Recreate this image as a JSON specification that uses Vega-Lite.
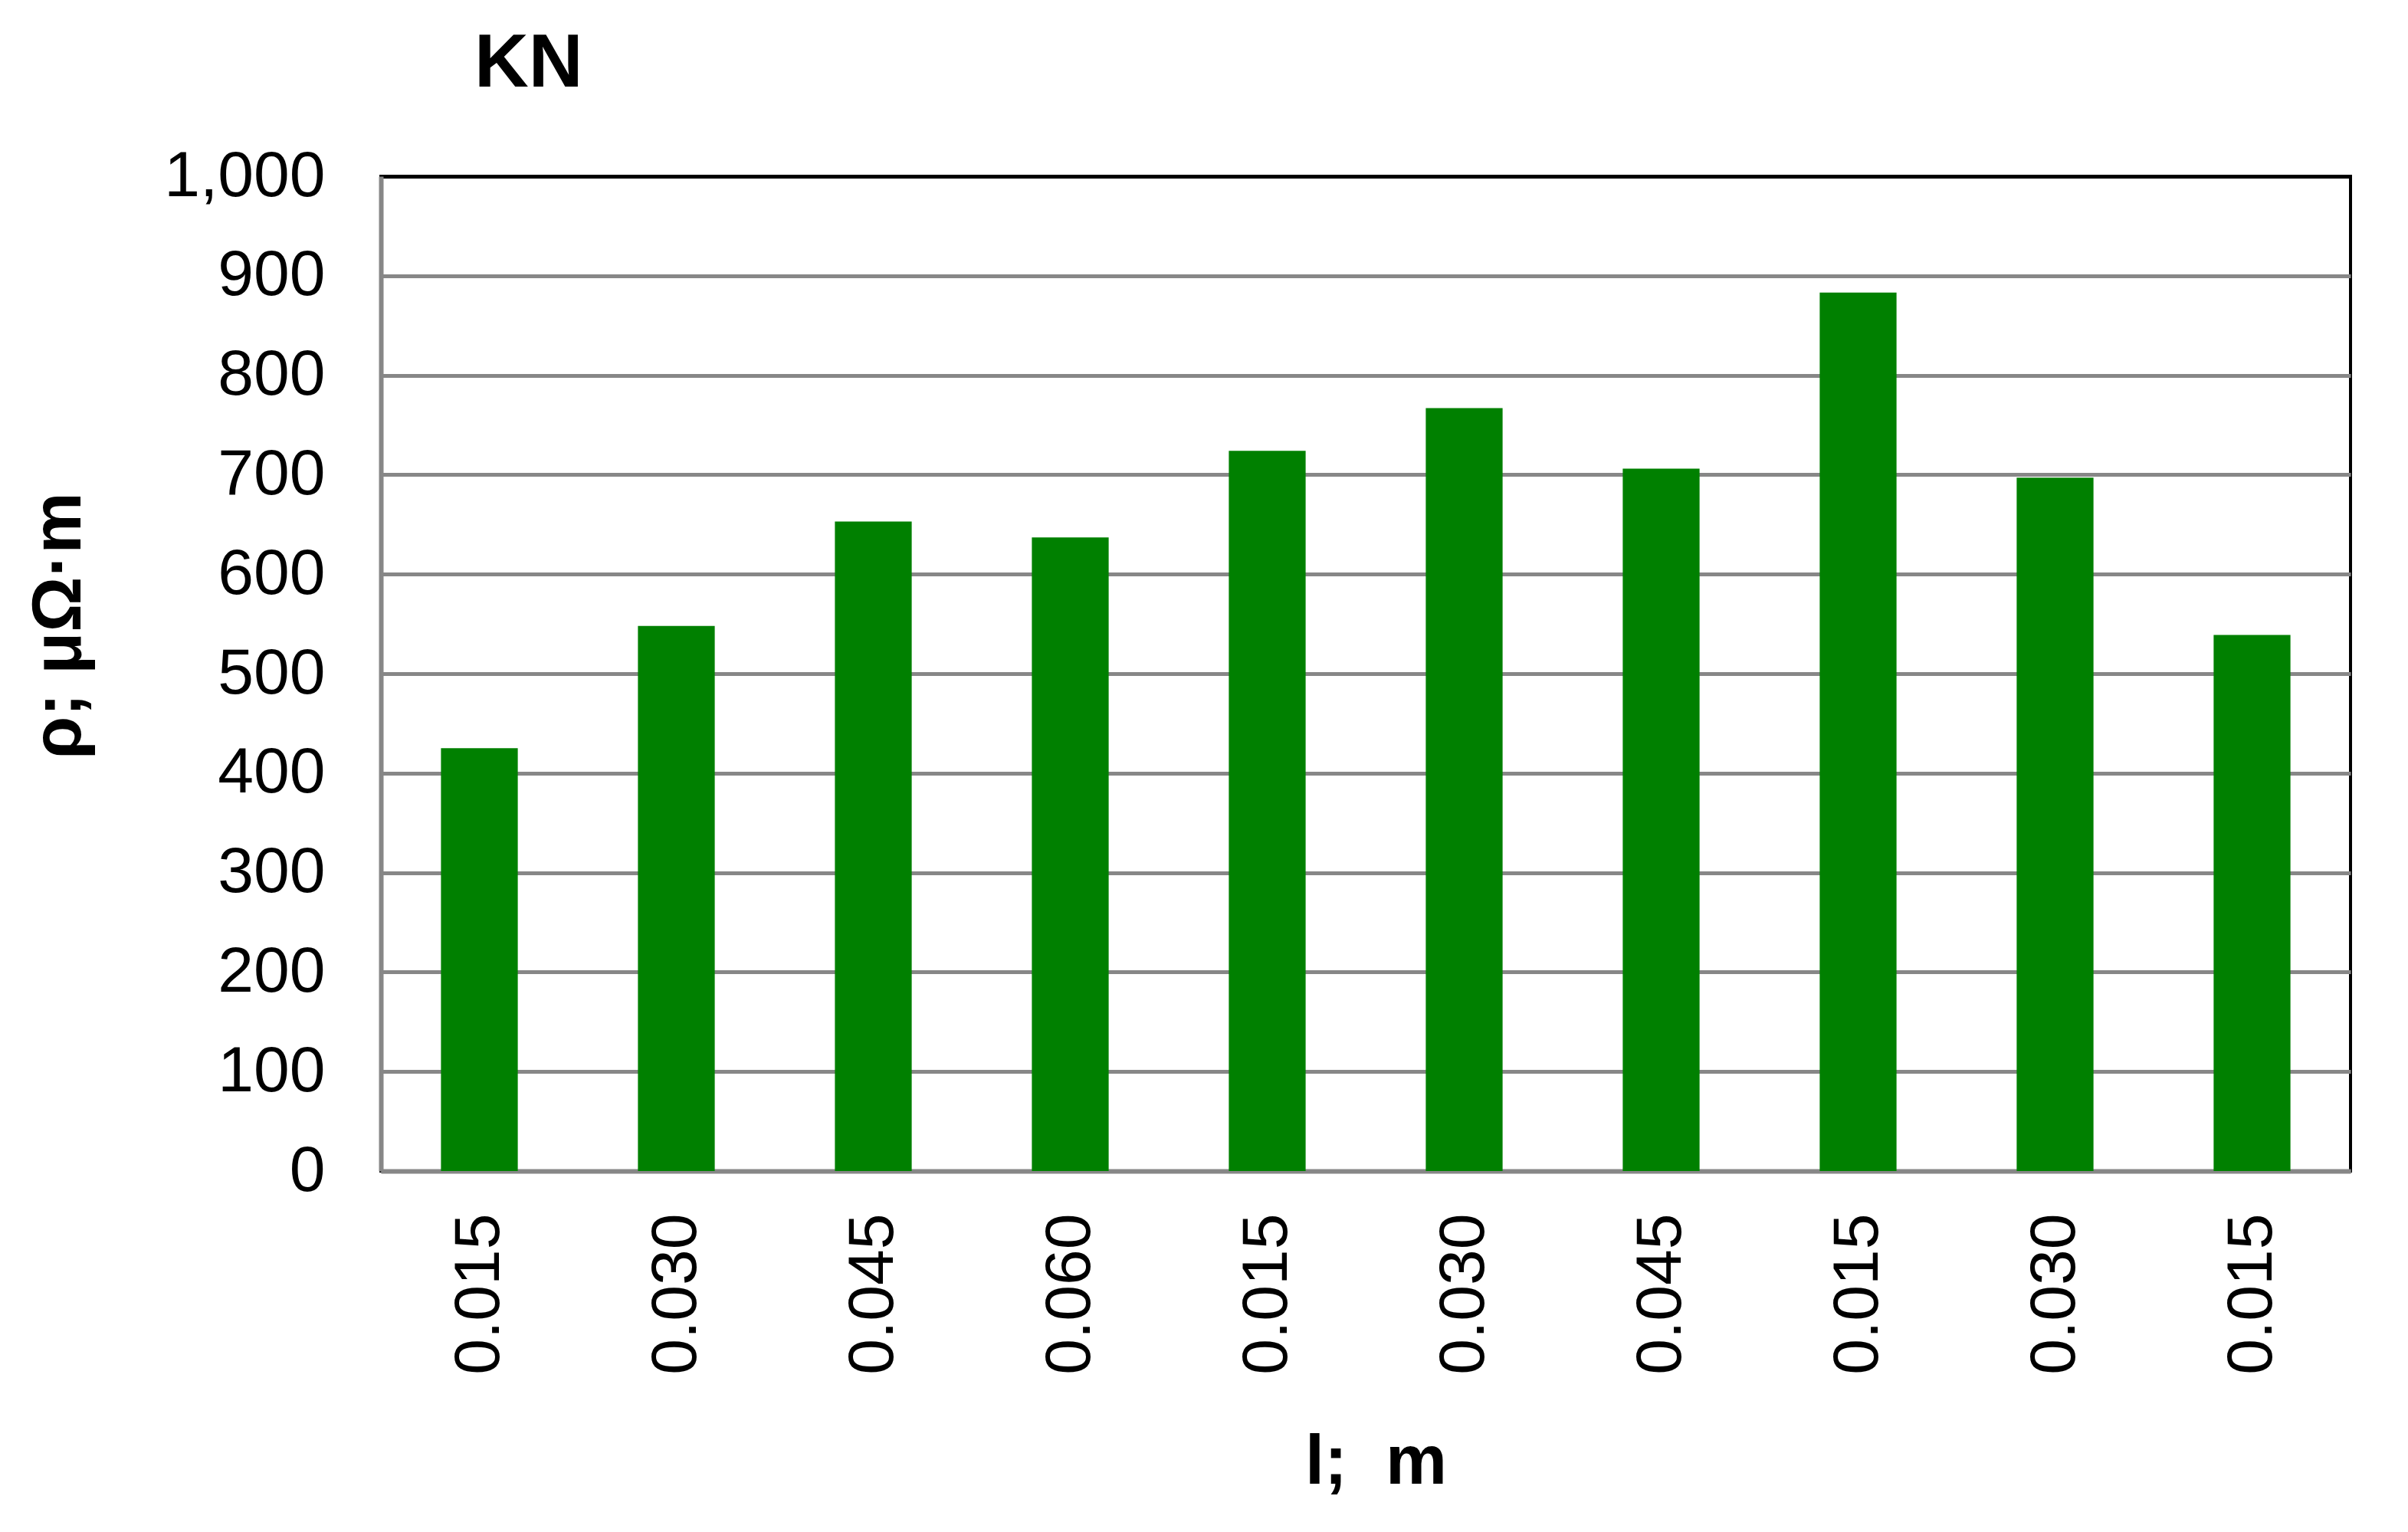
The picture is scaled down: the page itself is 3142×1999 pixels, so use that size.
{
  "$schema": "https://vega.github.io/schema/vega-lite/v6.json",
  "description": "KN resistivity by length",
  "autosize": "none",
  "padding": {"left": 497, "top": 230, "right": 75, "bottom": 471},
  "width": 2570,
  "height": 1298,
  "background": "white",
  "title": {
    "text": "KN",
    "anchor": "start",
    "frame": "group",
    "dx": 122,
    "offset": 54,
    "font": "Liberation Sans",
    "fontSize": 98,
    "fontWeight": "bold",
    "color": "black"
  },
  "data": {
    "values": [
      {"key": "1|0.015", "rho": 425},
      {"key": "2|0.030", "rho": 548},
      {"key": "3|0.045", "rho": 653},
      {"key": "4|0.060", "rho": 637},
      {"key": "5|0.015", "rho": 724},
      {"key": "6|0.030", "rho": 767},
      {"key": "7|0.045", "rho": 706},
      {"key": "8|0.015", "rho": 883},
      {"key": "9|0.030", "rho": 697},
      {"key": "10|0.015", "rho": 539}
    ]
  },
  "mark": {"type": "bar", "color": "#008000"},
  "encoding": {
    "x": {
      "field": "key",
      "type": "nominal",
      "sort": null,
      "scale": {"paddingInner": 0.61, "paddingOuter": 0.305},
      "axis": {
        "title": "l;\u00a0 m",
        "titleX": 1298,
        "titleY": 407,
        "titleBaseline": "alphabetic",
        "labelExpr": "split(datum.value, '|')[1]",
        "labelAngle": -90,
        "labelPadding": 55,
        "grid": false
      }
    },
    "y": {
      "field": "rho",
      "type": "quantitative",
      "scale": {"domain": [0, 1000], "nice": false},
      "axis": {
        "title": "ρ; μΩ·m",
        "titleX": -393,
        "titleY": 586,
        "titleBaseline": "alphabetic",
        "values": [0, 100, 200, 300, 400, 500, 600, 700, 800, 900, 1000],
        "format": ",.0f",
        "labelPadding": 73,
        "gridColor": {
          "condition": {"test": "datum.value === 1000", "value": "black"},
          "value": "#878787"
        }
      }
    }
  },
  "config": {
    "view": {"stroke": "black", "strokeWidth": 4},
    "axis": {
      "domainColor": "#878787",
      "domainWidth": 6,
      "gridColor": "#878787",
      "gridWidth": 5,
      "gridOpacity": 1,
      "ticks": false,
      "labelFont": "Liberation Sans",
      "labelFontSize": 84,
      "labelColor": "black",
      "labelLimit": 0,
      "labelOverlap": false,
      "titleFont": "Liberation Sans",
      "titleFontSize": 90,
      "titleFontWeight": "bold",
      "titleColor": "black"
    }
  }
}
